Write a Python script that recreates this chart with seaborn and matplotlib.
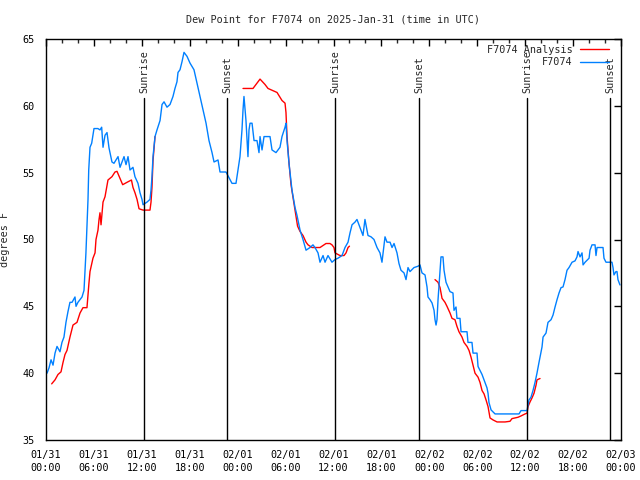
import numpy as np
import pandas as pd
import matplotlib
matplotlib.use("Agg")
import matplotlib.pyplot as plt
import seaborn as sns

# ---------------- data (hours since 01/31 00:00 UTC, degrees F) ----------------
obs_hours = [0.13, 0.38, 0.63, 0.88, 1.13, 1.38, 1.75, 2.0, 2.25, 2.5, 2.75, 3.0, 3.26, 3.63, 3.76,
             4.0, 4.26, 4.51, 4.76, 4.88, 5.0, 5.13, 5.26, 5.35, 5.51, 5.72, 6.01, 6.5, 6.76, 6.97,
             7.14, 7.39, 7.64, 7.89, 8.01, 8.26, 8.51, 9.02, 9.27, 9.77, 10.02, 10.27, 10.52, 10.89,
             11.14, 11.52, 11.77, 12.02, 12.15, 12.65, 13.02, 13.15, 13.27, 13.4, 13.65, 13.9, 14.28,
             14.53, 14.78, 15.15, 15.53, 15.9, 16.15, 16.4, 16.53, 16.78, 17.03, 17.28, 17.66, 18.03,
             18.53, 18.91, 19.28, 19.66, 20.04, 20.41, 20.79, 21.04, 21.54, 21.79, 22.54, 23.29, 23.79,
             24.04, 24.29, 24.54, 24.67, 24.79, 25.04, 25.29, 25.42, 25.55, 25.8, 26.05, 26.42, 26.67,
             26.8, 27.05, 27.3, 28.05, 28.3, 28.8, 29.3, 29.55, 29.93, 30.05, 30.18, 30.43, 30.8, 31.18,
             31.43, 31.81, 32.18, 32.56, 33.06, 33.43, 33.68, 34.06, 34.31, 34.69, 34.94, 35.31, 35.81,
             36.19, 36.56, 37.07, 37.44, 37.82, 38.07, 38.32, 38.69, 38.94, 39.32, 39.69, 39.94, 40.32,
             40.7, 41.07, 41.45, 41.82, 42.07, 42.45, 42.7, 43.08, 43.33, 43.58, 43.95, 44.2, 44.45,
             44.83, 45.08, 45.33, 45.58, 46.08, 46.58, 46.83, 47.08, 47.46, 47.71, 47.83, 48.08, 48.34,
             48.59, 48.71, 48.84, 48.96, 49.09, 49.34, 49.46, 49.71, 49.84, 50.09, 50.34, 50.59, 50.96,
             51.09, 51.34, 51.46, 51.84, 51.97, 52.72, 52.84, 53.34, 53.47, 53.97, 54.1, 54.6, 54.85,
             55.22, 55.35, 55.47, 55.73, 56.23, 59.23, 59.48, 60.23, 60.48, 60.73, 60.98, 61.23, 61.48,
             61.73, 62.11, 62.24, 62.61, 62.86, 63.24, 63.49, 63.74, 63.99, 64.24, 64.49, 64.74, 64.99,
             65.24, 65.49, 65.87, 66.24, 66.49, 66.62, 66.87, 67.12, 67.25, 67.5, 68.0, 68.12, 68.37,
             68.75, 68.87, 69.0, 69.75, 69.87, 70.12, 70.87, 71.0, 71.12, 71.37, 71.5, 71.62, 71.87]
obs_values = [40.0, 40.4, 41.0, 40.6, 41.5, 42.0, 41.6, 42.3, 42.7, 43.8, 44.6, 45.3, 45.3, 45.7, 45.0,
              45.3, 45.5, 45.7, 46.2, 47.6, 49.0, 50.9, 53.0, 55.2, 56.9, 57.2, 58.3, 58.3, 58.2, 58.4,
              56.9, 57.8, 58.0, 56.85, 56.5, 55.8, 55.7, 56.2, 55.4, 56.2, 55.6, 56.2, 55.2, 55.4,
              54.7, 54.2, 53.5, 53.0, 52.6, 52.8, 53.0, 53.7, 54.7, 56.2, 57.7, 58.2, 58.9,
              60.1, 60.3, 59.9, 60.1, 60.7, 61.3, 61.8, 62.5, 62.7, 63.3, 64.0, 63.7, 63.2,
              62.7, 61.7, 60.7, 59.7, 58.7, 57.4, 56.5, 55.8, 55.95, 55.05, 55.05, 54.2, 54.2,
              55.2, 56.2, 58.2, 59.7, 60.7, 58.9, 56.2, 58.2, 58.7, 58.7, 57.4, 57.4, 56.5,
              57.7, 56.7, 57.7, 57.7, 56.7, 56.5, 56.9, 57.7, 58.4, 58.7, 57.4, 55.7, 53.7, 52.4,
              51.8, 50.7, 50.0, 49.2, 49.4, 49.6, 49.4, 49.0, 48.3, 48.8, 48.3, 48.8, 48.3,
              48.5, 48.6, 48.8, 49.4, 49.8, 50.5, 51.1, 51.3, 51.5, 50.9, 50.3, 51.5, 50.3,
              50.2, 50.0, 49.4, 49.0, 48.3, 50.2, 49.8, 49.8, 49.4, 49.7, 49.0, 48.2, 47.7,
              47.5, 47.0, 47.9, 47.6, 47.9, 48.0, 48.1, 47.5, 47.35, 46.45, 45.7, 45.5, 45.25,
              44.7, 44.0, 43.6, 44.0, 45.5, 47.7, 48.7, 48.7, 47.7, 46.8, 46.45, 46.1, 46.0,
              44.7, 44.95, 44.1, 44.1, 43.1, 43.1, 42.3, 42.3, 41.5, 41.5, 40.5, 39.9, 39.5,
              38.9, 38.5, 37.8, 37.25, 36.95, 36.95, 37.2, 37.2, 38.0, 38.2, 38.7, 39.3, 40.0,
              40.8, 41.96, 42.7, 43.0, 43.8, 44.0, 44.35, 44.95, 45.5, 46.0, 46.4, 46.45, 47.0,
              47.7, 47.9, 48.3, 48.4, 48.7, 49.1, 48.7, 49.0, 48.1, 48.3, 48.6, 49.2, 49.6,
              49.6, 48.8, 49.4, 49.4, 48.6, 48.3, 48.3, 47.9, 47.35, 47.6, 47.6, 47.0, 46.6]

ana1_hours = [0.71, 1.13, 1.5, 1.88, 2.13, 2.38, 2.63, 3.0, 3.38, 3.88, 4.26, 4.63, 5.13, 5.38, 5.51,
              5.88, 6.14, 6.26, 6.51, 6.64, 6.76, 6.89, 7.14, 7.39, 7.76, 8.26, 8.64, 8.89, 9.6,
              10.21, 10.7, 10.89, 11.14, 11.4, 11.65, 12.15, 13.02, 13.15, 13.27, 13.4, 13.65]
ana1_values = [39.2, 39.5, 39.9, 40.1, 40.8, 41.4, 41.7, 42.7, 43.6, 43.8, 44.5, 44.9, 44.9, 46.75, 47.6,
               48.6, 49.0, 50.0, 50.7, 51.5, 52.0, 51.1, 52.8, 53.2, 54.45, 54.7, 55.05, 55.1, 54.1,
               54.3, 54.45, 53.9, 53.5, 53.0, 52.3, 52.2, 52.2, 52.8, 53.9, 55.9, 57.7]
ana2_hours = [24.67, 25.92, 26.8, 27.42, 27.8, 28.93, 29.55, 29.93, 30.05, 30.18, 30.43, 30.68, 31.05,
              31.5, 31.81, 32.18, 32.56, 32.81, 33.31, 34.31, 34.81, 35.06, 35.56, 35.81, 36.06, 36.19,
              36.81, 37.07, 37.32, 37.57, 37.82, 38.0]
ana2_values = [61.3, 61.3, 62.0, 61.6, 61.3, 61.0, 60.4, 60.2, 59.5, 57.7, 55.7, 54.1, 52.7,
               51.0, 50.6, 50.3, 49.8, 49.6, 49.4, 49.4, 49.6, 49.7, 49.7, 49.6, 49.4, 49.0,
               48.8, 48.8, 48.8, 49.0, 49.4, 49.5]
ana3_hours = [48.71, 49.09, 49.34, 49.59, 49.96, 50.21, 50.59, 50.84, 51.21, 51.46, 51.71, 52.09, 52.34,
              52.72, 52.97, 53.22, 53.47, 53.72, 54.1, 54.35, 54.6, 54.85, 55.1, 55.35, 55.6, 55.98,
              56.48, 57.48, 58.1, 58.35, 58.73, 59.1, 59.48, 59.98, 60.23, 60.36, 60.61, 60.86, 61.11,
              61.36, 61.48, 61.86]
ana3_values = [47.0, 46.8, 46.4, 45.6, 45.3, 45.0, 44.5, 44.1, 44.0, 43.5, 43.1, 42.7, 42.3,
               42.0, 41.7, 41.2, 40.6, 40.0, 39.7, 39.3, 38.7, 38.45, 38.0, 37.5, 36.65, 36.5,
               36.35, 36.35, 36.4, 36.6, 36.65, 36.7, 36.8, 36.95, 37.0, 37.5, 37.85, 38.15, 38.5,
               39.1, 39.5, 39.6]

sun_events = ["Sunrise", "Sunset", "Sunrise", "Sunset", "Sunrise", "Sunset"]
sun_hours = [12.31, 22.71, 36.23, 46.75, 60.27, 70.67]

tick_hours = [0, 6, 12, 18, 24, 30, 36, 42, 48, 54, 60, 66, 72]
tick_labels = ["01/31\n00:00", "01/31\n06:00", "01/31\n12:00", "01/31\n18:00",
               "02/01\n00:00", "02/01\n06:00", "02/01\n12:00", "02/01\n18:00",
               "02/02\n00:00", "02/02\n06:00", "02/02\n12:00", "02/02\n18:00",
               "02/03\n00:00"]

title = "Dew Point for F7074 on 2025-Jan-31 (time in UTC)"

# ---------------- tables ----------------
obs_df = pd.DataFrame({"hour": obs_hours, "value": obs_values})
ana_df = pd.concat([
    pd.DataFrame({"hour": ana1_hours, "value": ana1_values, "seg": 1}),
    pd.DataFrame({"hour": ana2_hours, "value": ana2_values, "seg": 2}),
    pd.DataFrame({"hour": ana3_hours, "value": ana3_values, "seg": 3}),
], ignore_index=True)

# ---------------- style ----------------
sns.set_style("white")
plt.rcParams["font.family"] = ["DejaVu Sans Mono"]
FS = 7.3
RED = "#ff0000"
BLUE = "#0080ff"

fig = plt.figure(figsize=(6.4, 4.8), dpi=100)
ax = fig.add_axes([46 / 640, 40 / 480, 575 / 640, 401 / 480])

sns.lineplot(data=ana_df, x="hour", y="value", units="seg", estimator=None,
             color=RED, linewidth=1.0, ax=ax, legend=False, sort=False)
sns.lineplot(data=obs_df, x="hour", y="value", estimator=None,
             color=BLUE, linewidth=1.0, ax=ax, legend=False, sort=False)

# sunrise / sunset markers
for h, name in zip(sun_hours, sun_events):
    ax.plot([h, h], [35, 60.55], color="black", linewidth=1.0)
    ax.text(h, 60.95, name, rotation=90, ha="center", va="bottom", fontsize=FS)

ax.set_xlim(0, 72)
ax.set_ylim(35, 65)
ax.set_xticks(tick_hours)
ax.set_xticklabels(tick_labels, fontsize=FS, linespacing=1.45)
ax.set_xticks(np.arange(0, 73, 2), minor=True)
ax.set_yticks([35, 40, 45, 50, 55, 60, 65])
ax.set_yticklabels(["35", "40", "45", "50", "55", "60", "65"], fontsize=FS)
ax.tick_params(axis="both", which="major", direction="in", length=5, width=1,
               top=True, right=True, colors="black")
ax.tick_params(axis="x", which="major", pad=7)
ax.tick_params(axis="y", which="major", pad=8)
ax.tick_params(axis="x", which="minor", direction="in", length=3, width=1, top=True)
ax.set_xlabel("")
ax.set_ylabel("degrees F", fontsize=FS)
ax.yaxis.set_label_coords(-36 / 575, 0.5)
for sp in ax.spines.values():
    sp.set_color("black")
    sp.set_linewidth(1.0)
ax.grid(False)

fig.suptitle(title, x=333.5 / 640, y=1 - 14 / 480, fontsize=FS, va="top")

handles = [plt.Line2D([], [], color=RED, lw=1.0), plt.Line2D([], [], color=BLUE, lw=1.0)]
ax.legend(handles, ["F7074 Analysis", "F7074"], loc="upper right", frameon=False,
          markerfirst=False, fontsize=FS, handlelength=2.9, handletextpad=0.65,
          labelspacing=0.2, borderaxespad=0.0, borderpad=0.3,
          bbox_to_anchor=(1 - 9 / 575, 1.0 - 3 / 401))

fig.savefig("out.png", dpi=100)
